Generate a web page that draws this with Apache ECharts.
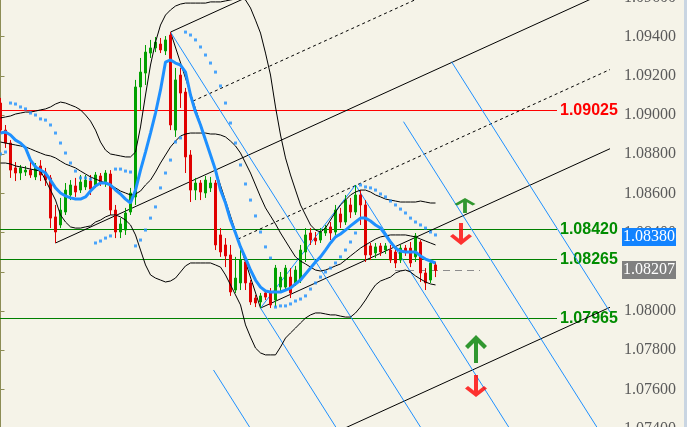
<!DOCTYPE html>
<html><head><meta charset="utf-8">
<script src="https://cdn.jsdelivr.net/npm/echarts@6/dist/echarts.min.js"></script>
<style>html,body{margin:0;padding:0;background:#F5F3E8;}#c{width:687px;height:427px;}</style>
</head><body><div id="c"></div>
<script>
// ---- data ----
const slotCount = 124;            // bar slots on the time axis (88 bars + empty future space)
const candles = [ // [open, close, low, high]
[1.09061,1.08923,1.08908,1.09087],[1.08923,1.08857,1.08832,1.08949],[1.08857,1.08719,1.08679,1.08872],
[1.08730,1.08704,1.08663,1.08760],[1.08704,1.08730,1.08668,1.08745],[1.08709,1.08719,1.08689,1.08740],
[1.08719,1.08694,1.08679,1.08760],[1.08684,1.08740,1.08668,1.08755],[1.08740,1.08694,1.08663,1.08770],
[1.08709,1.08668,1.08638,1.08730],[1.08679,1.08474,1.08423,1.08694],[1.08480,1.08403,1.08347,1.08541],
[1.08439,1.08515,1.08423,1.08577],[1.08505,1.08617,1.08490,1.08653],[1.08592,1.08643,1.08566,1.08668],
[1.08638,1.08607,1.08582,1.08679],[1.08617,1.08658,1.08602,1.08694],[1.08633,1.08668,1.08617,1.08694],
[1.08663,1.08622,1.08592,1.08694],[1.08643,1.08694,1.08628,1.08709],[1.08689,1.08658,1.08638,1.08704],
[1.08653,1.08704,1.08633,1.08719],[1.08699,1.08515,1.08490,1.08719],[1.08515,1.08403,1.08372,1.08541],
[1.08403,1.08444,1.08372,1.08474],[1.08413,1.08500,1.08388,1.08526],[1.08505,1.08602,1.08490,1.08628],
[1.08582,1.09143,1.08541,1.09179],[1.09143,1.09219,1.09026,1.09291],[1.09214,1.09321,1.09153,1.09357],
[1.09316,1.09342,1.09291,1.09383],[1.09342,1.09372,1.09321,1.09398],[1.09362,1.09332,1.09316,1.09393],
[1.09327,1.09383,1.09306,1.09403],[1.09408,1.08949,1.08923,1.09423],[1.08923,1.09179,1.08888,1.09240],
[1.09204,1.09112,1.09036,1.09240],[1.09117,1.08786,1.08704,1.09138],[1.08796,1.08617,1.08556,1.08821],
[1.08617,1.08653,1.08566,1.08679],[1.08653,1.08607,1.08566,1.08668],[1.08602,1.08668,1.08577,1.08689],
[1.08628,1.08653,1.08607,1.08684],[1.08653,1.08337,1.08311,1.08668],[1.08388,1.08301,1.08276,1.08423],
[1.08337,1.08281,1.08224,1.08372],[1.08286,1.08097,1.08077,1.08337],[1.08107,1.08168,1.08092,1.08276],
[1.08143,1.08260,1.08107,1.08311],[1.08250,1.08143,1.08107,1.08270],[1.08143,1.08046,1.08031,1.08158],
[1.08066,1.08041,1.08020,1.08082],[1.08046,1.08077,1.08015,1.08092],[1.08092,1.08071,1.08056,1.08107],
[1.08092,1.08031,1.08015,1.08117],[1.08056,1.08219,1.08020,1.08235],[1.08122,1.08173,1.08097,1.08199],
[1.08122,1.08219,1.08107,1.08235],[1.08173,1.08092,1.08066,1.08219],[1.08143,1.08209,1.08128,1.08230],
[1.08158,1.08311,1.08143,1.08337],[1.08301,1.08388,1.08250,1.08423],[1.08398,1.08362,1.08337,1.08423],
[1.08372,1.08357,1.08337,1.08403],[1.08362,1.08403,1.08347,1.08423],[1.08398,1.08423,1.08383,1.08439],
[1.08429,1.08398,1.08362,1.08454],[1.08403,1.08515,1.08388,1.08541],[1.08495,1.08454,1.08423,1.08526],
[1.08454,1.08566,1.08439,1.08592],[1.08541,1.08505,1.08474,1.08577],[1.08505,1.08592,1.08490,1.08643],
[1.08592,1.08541,1.08439,1.08617],[1.08541,1.08286,1.08250,1.08566],[1.08332,1.08286,1.08260,1.08347],
[1.08296,1.08327,1.08270,1.08347],[1.08332,1.08301,1.08281,1.08347],[1.08311,1.08332,1.08291,1.08347],
[1.08311,1.08260,1.08245,1.08337],[1.08301,1.08245,1.08219,1.08321],[1.08260,1.08321,1.08245,1.08337],
[1.08321,1.08301,1.08281,1.08337],[1.08321,1.08245,1.08224,1.08352],[1.08276,1.08383,1.08250,1.08398],
[1.08352,1.08194,1.08148,1.08362],[1.08194,1.08143,1.08107,1.08219],[1.08158,1.08245,1.08143,1.08260],
[1.08235,1.08207,1.08173,1.08250]
];
const maLine = [1.08908,1.08913,1.08898,1.08872,1.08857,1.08832,1.08770,1.08735,1.08719,1.08704,
1.08668,1.08628,1.08602,1.08587,1.08577,1.08571,1.08571,1.08582,1.08612,1.08638,
1.08653,1.08653,1.08643,1.08617,1.08597,1.08571,1.08551,1.08617,1.08719,1.08811,
1.08908,1.09010,1.09128,1.09270,1.09281,1.09265,1.09255,1.09219,1.09102,1.09015,
1.08949,1.08872,1.08796,1.08719,1.08617,1.08551,1.08464,1.08398,1.08327,1.08270,
1.08209,1.08158,1.08122,1.08102,1.08097,1.08097,1.08097,1.08107,1.08117,1.08138,
1.08158,1.08189,1.08219,1.08250,1.08276,1.08311,1.08347,1.08378,1.08393,1.08413,
1.08434,1.08454,1.08474,1.08474,1.08459,1.08439,1.08423,1.08388,1.08352,1.08321,
1.08306,1.08301,1.08301,1.08301,1.08281,1.08265,1.08255,1.08245];
const bbUpper = [1.08985,1.08990,1.08995,1.09005,1.09010,1.09015,1.09015,1.09020,1.09026,1.09031,
1.09041,1.09056,1.09066,1.09061,1.09051,1.09041,1.09026,1.09000,1.08969,1.08923,
1.08862,1.08821,1.08801,1.08796,1.08791,1.08786,1.08786,1.08811,1.08939,1.09102,
1.09255,1.09372,1.09459,1.09510,1.09536,1.09556,1.09566,1.09571,1.09571,1.09571,
1.09571,1.09571,1.09577,1.09577,1.09577,1.09582,1.09587,1.09592,1.09597,1.09587,
1.09546,1.09484,1.09418,1.09316,1.09204,1.09041,1.08898,1.08781,1.08694,1.08617,
1.08541,1.08490,1.08439,1.08413,1.08403,1.08423,1.08464,1.08505,1.08541,1.08566,
1.08592,1.08607,1.08617,1.08617,1.08607,1.08592,1.08582,1.08571,1.08566,1.08561,
1.08556,1.08556,1.08556,1.08556,1.08561,1.08556,1.08551,1.08551];
const bbMiddle = [1.08862,1.08857,1.08852,1.08847,1.08842,1.08837,1.08827,1.08816,1.08806,1.08796,
1.08791,1.08781,1.08765,1.08750,1.08740,1.08730,1.08714,1.08699,1.08684,1.08673,
1.08663,1.08653,1.08643,1.08628,1.08612,1.08602,1.08592,1.08597,1.08612,1.08643,
1.08668,1.08709,1.08755,1.08796,1.08837,1.08867,1.08893,1.08903,1.08908,1.08908,
1.08908,1.08908,1.08903,1.08903,1.08898,1.08888,1.08867,1.08842,1.08806,1.08755,
1.08704,1.08643,1.08582,1.08526,1.08485,1.08444,1.08398,1.08357,1.08316,1.08276,
1.08255,1.08240,1.08224,1.08209,1.08204,1.08209,1.08219,1.08230,1.08240,1.08260,
1.08281,1.08301,1.08321,1.08337,1.08352,1.08367,1.08378,1.08383,1.08388,1.08388,
1.08388,1.08388,1.08383,1.08378,1.08367,1.08357,1.08347,1.08337];
const bbLower = [1.08755,1.08755,1.08750,1.08740,1.08735,1.08730,1.08724,1.08719,1.08714,1.08668,
1.08617,1.08566,1.08490,1.08454,1.08429,1.08423,1.08423,1.08429,1.08434,1.08454,
1.08464,1.08480,1.08490,1.08490,1.08480,1.08464,1.08439,1.08388,1.08311,1.08235,
1.08184,1.08168,1.08158,1.08148,1.08153,1.08168,1.08199,1.08230,1.08245,1.08245,
1.08245,1.08245,1.08245,1.08235,1.08224,1.08184,1.08133,1.08082,1.08031,1.07929,
1.07867,1.07811,1.07786,1.07776,1.07776,1.07776,1.07816,1.07862,1.07888,1.07913,
1.07939,1.07964,1.07980,1.07990,1.07990,1.07985,1.07980,1.07980,1.07974,1.07969,
1.07969,1.07990,1.08020,1.08056,1.08097,1.08133,1.08153,1.08163,1.08173,1.08194,
1.08204,1.08209,1.08199,1.08179,1.08163,1.08148,1.08138,1.08133];
const sarDots = [1.08801,1.08811,1.09061,1.09056,1.09041,1.09031,1.09010,1.09000,1.08980,1.08974,
1.08949,1.08908,1.08857,1.08806,1.08755,1.08714,1.08679,1.08679,1.08673,1.08347,
1.08357,1.08372,1.08383,1.08724,1.08724,1.08714,1.08709,1.08332,1.08362,1.08413,
1.08474,1.08531,1.08628,1.08704,1.08770,1.08862,1.08883,1.09423,1.09408,1.09383,
1.09347,1.09306,1.09265,1.09219,1.09148,1.09061,1.08959,1.08857,1.08745,1.08648,
1.08566,1.08485,1.08403,1.08327,1.08270,1.08020,1.08026,1.08026,1.08036,1.08051,
1.08061,1.08077,1.08112,1.08143,1.08173,1.08199,1.08219,1.08245,1.08276,1.08311,
1.08352,1.08398,1.08643,1.08633,1.08628,1.08617,1.08597,1.08582,1.08561,1.08541,
1.08520,1.08500,1.08474,1.08454,1.08439,1.08423,1.08403,1.08388];
const levelValues = [1.09025, 1.08420, 1.08265, 1.07965];
const levelColors = ['#FF0000', '#008000', '#008000', '#008000'];
const levelLabelColors = ['#FF0000', '#008C00', '#008C00', '#008C00'];
const levelEndBar = 111.3;
// drawn objects: [barPosition, price] endpoints
const solidLines = [
  [[34,1.09423],[121.9,1.10445]],
  [[11,1.08347],[121.9,1.09636]],
  [[52,1.08015],[121.9,1.08828]],
  [[61,1.07311],[121.9,1.08019]],
  [[34,1.09423],[52,1.08015]]
];
const dottedLines = [
  [[38.5,1.09071],[121.9,1.10041]],
  [[47.5,1.08367],[121.9,1.09232]]
];
const blueLines = [
  [[34,1.09423],[86,1.07327]],
  [[52,1.08015],[68,1.07370]],
  [[71,1.08643],[103,1.07353]],
  [[42.6,1.07699],[51,1.07360]],
  [[80.6,1.08966],[121,1.07338]],
  [[90.2,1.09272],[121.9,1.07995]],
  [[52,1.08015],[71,1.08643]]
];
const bidLine = [[78.9,1.08207],[95.9,1.08207]];
const arrowsUp = [[92.9,1.08538],[95.1,1.07806]];
const arrowsDown = [[92.1,1.08393],[95.1,1.07617]];
const priceTags = [{value:1.08380, bg:'#1283FF'}, {value:1.08207, bg:'#808080'}];
const yTicks = {min:1.074, max:1.096, step:0.002};

// ---- chart ----
const chart = echarts.init(document.getElementById('c'), null, {renderer:'canvas'});
const slots = Array.from({length: slotCount}, (_, i) => String(i));
const upPath = 'path://M11,0 L22,11 L19,14 L13,8 L13,28 L9,28 L9,8 L3,14 L0,11 Z';
const downPath = 'path://M11,28 L22,17 L19,14 L13,20 L13,0 L9,0 L9,20 L3,14 L0,17 Z';

function seg(data, color, type, z) {
  return {type:'line', xAxisIndex:1, yAxisIndex:0, data, symbol:'none', silent:true,
    animation:false, z, lineStyle:{color, width:1, type}};
}
const series = [];
solidLines.forEach(d => series.push(seg(d, '#000000', 'solid', 2)));
dottedLines.forEach(d => series.push(seg(d, '#000000', [3,3], 2)));
blueLines.forEach(d => series.push(seg(d, '#1E90FF', 'solid', 2)));
// horizontal levels: crisp 1px lines with their value labels
series.push({type:'custom', xAxisIndex:1, yAxisIndex:0, silent:true, animation:false, z:2,
  data: levelValues.map((v, k) => [v, k]),
  renderItem: (params, api) => {
    const v = api.value(0), k = api.value(1);
    const p0 = api.coord([-0.5, v]), p1 = api.coord([levelEndBar, v]);
    const y = Math.round(p0[1]) + 0.5;
    return {type:'group', children:[
      {type:'line', shape:{x1:p0[0], y1:y, x2:p1[0], y2:y}, style:{stroke:levelColors[k], lineWidth:1}},
      {type:'text', x:p1[0] + 3, y:y, style:{text:v.toFixed(5), fill:levelLabelColors[k],
        font:'bold 16px "Liberation Sans"', textAlign:'left', textVerticalAlign:'middle'}}
    ]};
  }});
series.push({type:'custom', xAxisIndex:1, yAxisIndex:0, silent:true, animation:false, z:2,
  data:[[bidLine[0][0], bidLine[1][0], bidLine[0][1]]],
  renderItem: (params, api) => {
    const p0 = api.coord([api.value(0), api.value(2)]), p1 = api.coord([api.value(1), api.value(2)]);
    const y = Math.round(p0[1]) + 0.5;
    return {type:'line', shape:{x1:p0[0], y1:y, x2:p1[0], y2:y},
      style:{stroke:'#8C8C8C', lineWidth:1, lineDash:[7,5]}};
  }});
series.push({type:'candlestick', xAxisIndex:0, yAxisIndex:0, data:candles, barWidth:2,
  animation:false, z:3,
  itemStyle:{color:'#00A000', color0:'#E00000', borderColor:'#00A000', borderColor0:'#E00000', borderWidth:1}});
[bbUpper, bbMiddle, bbLower].forEach(d => series.push({type:'line', xAxisIndex:0, yAxisIndex:0,
  data:d, symbol:'none', silent:true, animation:false, z:4, lineStyle:{color:'#000000', width:1}}));
series.push({type:'line', xAxisIndex:0, yAxisIndex:0, data:maLine, symbol:'none', silent:true,
  animation:false, z:5, lineStyle:{color:'#1E90FF', width:3}});
series.push({type:'scatter', xAxisIndex:0, yAxisIndex:0, data:sarDots, symbol:'rect', symbolSize:3,
  silent:true, animation:false, z:5, itemStyle:{color:'#1E90FF'}});
series.push({type:'scatter', xAxisIndex:1, yAxisIndex:0, silent:true, animation:false, z:6,
  data:[
    {value:arrowsUp[0], symbol:upPath, symbolSize:[21,15], itemStyle:{color:'#008000'}},
    {value:arrowsUp[1], symbol:upPath, symbolSize:[22,28], itemStyle:{color:'#008000'}},
    {value:arrowsDown[0], symbol:downPath, symbolSize:[22,22], itemStyle:{color:'#FF0000'}},
    {value:arrowsDown[1], symbol:downPath, symbolSize:[22,22], itemStyle:{color:'#FF0000'}}
  ]});

chart.setOption({
  backgroundColor:'#F5F3E8',
  animation:false,
  grid:{left:-2, right:69, top:-2.6, bottom:-1.6, outerBoundsMode:'none', containLabel:false},
  xAxis:[
    {type:'category', data:slots, boundaryGap:true, show:false},
    {type:'value', min:-0.5, max:slotCount-0.5, show:false}
  ],
  yAxis:{type:'value', position:'right', min:yTicks.min, max:yTicks.max, interval:yTicks.step,
    splitLine:{show:false},
    axisLine:{show:true, lineStyle:{color:'#8C8C55', width:1}},
    axisTick:{show:true, length:4, lineStyle:{color:'#8C8C55'}},
    axisLabel:{formatter:v => v.toFixed(5), margin:6, color:'#5A5A5A', fontSize:16,
      fontFamily:'Liberation Serif', showMinLabel:true, showMaxLabel:true, hideOverlap:false}},
  series
});

const tags = priceTags.map(t => {
  const y = chart.convertToPixel({yAxisIndex:0}, t.value);
  return {type:'group', z:100, children:[
    {type:'rect', shape:{x:622, y:Math.round(y)-9, width:54, height:18}, style:{fill:t.bg}, z:100},
    {type:'text', x:649, y:Math.round(y), z:101, style:{text:t.value.toFixed(5), fill:'#FFFFFF', fontSize:16,
      fontFamily:'Liberation Serif', align:'center', verticalAlign:'middle'}}
  ]};
});
tags.push({type:'rect', shape:{x:684, y:0, width:3, height:427}, style:{fill:'#C9D5E2'}, z:100});
chart.setOption({graphic: tags});
</script></body></html>
